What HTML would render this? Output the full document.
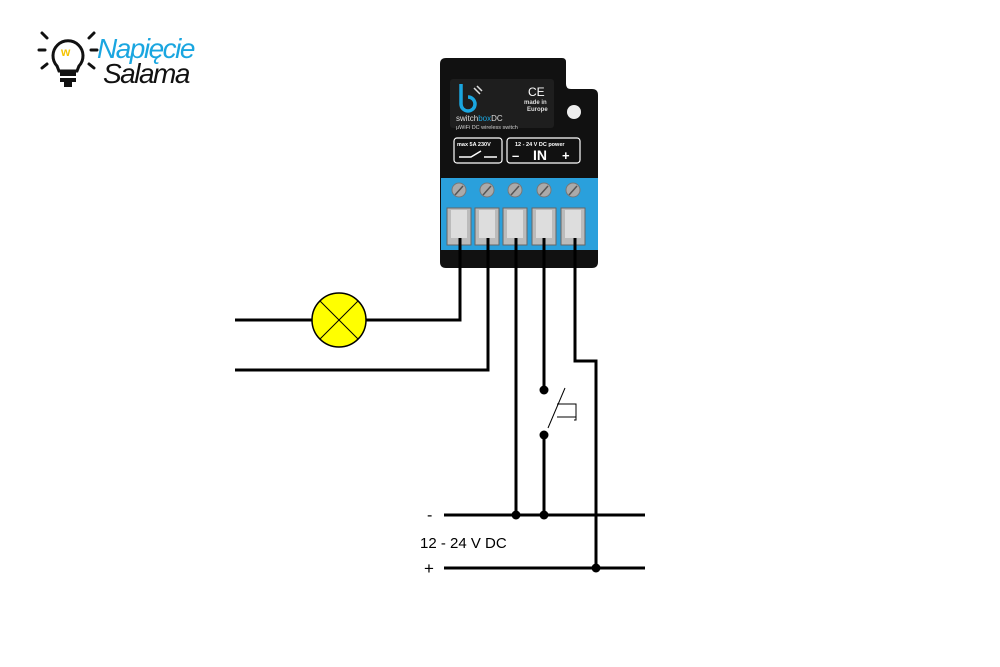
<!DOCTYPE html>
<html><head><meta charset="utf-8"><style>
html,body{margin:0;padding:0;background:#fff;}
svg{display:block;}
text{font-family:"Liberation Sans",sans-serif;}
</style></head><body>
<svg width="1000" height="667" viewBox="0 0 1000 667" xmlns="http://www.w3.org/2000/svg">
<!-- logo -->
<g stroke="#111" stroke-width="3" stroke-linecap="round" fill="none">
<path d="M57 66 A15 15 0 1 1 79 66 L77 71 L59 71 Z"/>
<line x1="42" y1="33" x2="47" y2="38"/><line x1="94" y1="33" x2="89" y2="38"/>
<line x1="39" y1="50" x2="45" y2="50"/><line x1="91" y1="50" x2="97" y2="50"/>
<line x1="42" y1="68" x2="47" y2="64"/><line x1="94" y1="68" x2="89" y2="64"/>
</g>
<rect x="60" y="72" width="16" height="4" fill="#111"/>
<rect x="60" y="78" width="16" height="4" fill="#111"/>
<rect x="64" y="82" width="8" height="5" fill="#111"/>
<text x="61" y="56" font-size="12" font-weight="bold" fill="#f5c400">w</text>
<text x="97" y="58" font-size="28" font-style="italic" fill="#1aa6e0" letter-spacing="-1.5">Napięcie</text>
<text x="103" y="83" font-size="28" font-style="italic" fill="#111" letter-spacing="-1.5">Salama</text>

<!-- device -->
<path d="M446 58 H562 Q566 58 566 62 V84 Q566 89 571 89 H592 Q598 89 598 95 V262 Q598 268 592 268 H446 Q440 268 440 262 V64 Q440 58 446 58 Z" fill="#111"/>
<rect x="450" y="79" width="104" height="49" rx="3" fill="#1e1e1e"/>
<path d="M461 84 V104 A7 7 0 1 0 468 97" stroke="#1aa6e0" stroke-width="3.5" fill="none"/>
<path d="M474 88 l6 6 M477 86 l5 5" stroke="#ddd" stroke-width="1.5"/>
<text x="528" y="96" font-size="12" fill="#fff">CE</text>
<text x="524" y="104" font-size="6" font-weight="bold" fill="#ddd">made in</text>
<text x="527" y="111" font-size="6" font-weight="bold" fill="#ddd">Europe</text>
<circle cx="574" cy="112" r="7" fill="#eee"/>
<text x="456" y="121" font-size="8" fill="#ddd">switch<tspan fill="#1aa6e0">box</tspan>DC</text>
<text x="456" y="129" font-size="5.5" fill="#ccc">μWiFi DC wireless switch</text>
<rect x="454" y="138" width="48" height="25" rx="3" fill="none" stroke="#fff" stroke-width="1.2"/>
<text x="457" y="146" font-size="5.5" font-weight="bold" fill="#fff">max 5A 230V</text>
<path d="M459 157 H471 L481 151 M484 157 H497" stroke="#fff" stroke-width="1.5" fill="none"/>
<rect x="507" y="138" width="73" height="25" rx="3" fill="none" stroke="#fff" stroke-width="1.2"/>
<text x="515" y="146" font-size="5.5" font-weight="bold" fill="#fff">12 - 24 V DC power</text>
<text x="512" y="160" font-size="13" font-weight="bold" fill="#fff">–</text>
<text x="533" y="160" font-size="14" font-weight="bold" fill="#fff">IN</text>
<text x="562" y="160" font-size="13" font-weight="bold" fill="#fff">+</text>
<rect x="441" y="178" width="157" height="72" fill="#2aa0dc"/>
<g>
<circle cx="459" cy="190" r="7" fill="#aaa" stroke="#777"/><circle cx="487" cy="190" r="7" fill="#aaa" stroke="#777"/><circle cx="515" cy="190" r="7" fill="#aaa" stroke="#777"/><circle cx="544" cy="190" r="7" fill="#aaa" stroke="#777"/><circle cx="573" cy="190" r="7" fill="#aaa" stroke="#777"/>
</g>
<g stroke="#555" stroke-width="1.5">
<line x1="455" y1="195" x2="463" y2="186"/><line x1="483" y1="195" x2="491" y2="186"/><line x1="511" y1="195" x2="519" y2="186"/><line x1="540" y1="195" x2="548" y2="186"/><line x1="569" y1="195" x2="577" y2="186"/>
</g>
<g fill="#bbb" stroke="#666">
<rect x="447" y="208" width="24" height="37"/><rect x="475" y="208" width="24" height="37"/><rect x="503" y="208" width="24" height="37"/><rect x="532" y="208" width="24" height="37"/><rect x="561" y="208" width="24" height="37"/>
</g>
<g fill="#ddd">
<rect x="451" y="210" width="16" height="28"/><rect x="479" y="210" width="16" height="28"/><rect x="507" y="210" width="16" height="28"/><rect x="536" y="210" width="16" height="28"/><rect x="565" y="210" width="16" height="28"/>
</g>

<!-- wires -->
<g stroke="#000" stroke-width="3" fill="none">
<path d="M460 238 V320 H366"/>
<path d="M312 320 H235"/>
<path d="M488 238 V370 H235"/>
<path d="M516 238 V515"/>
<path d="M544 238 V390"/>
<path d="M544 435 V515"/>
<path d="M575 238 V361 H596 V568"/>
<path d="M444 515 H645"/>
<path d="M444 568 H645"/>
</g>
<line x1="548" y1="428" x2="565" y2="388" stroke="#000" stroke-width="1"/>
<path d="M557 404 H576 V420 H574 M557 417 H576" stroke="#000" stroke-width="1" fill="none"/>
<g fill="#000">
<circle cx="544" cy="390" r="4.5"/><circle cx="544" cy="435" r="4.5"/>
<circle cx="516" cy="515" r="4.5"/><circle cx="544" cy="515" r="4.5"/><circle cx="596" cy="568" r="4.5"/>
</g>
<circle cx="339" cy="320" r="27" fill="#ffff00" stroke="#000" stroke-width="1.5"/>
<g stroke="#000" stroke-width="1"><line x1="320" y1="301" x2="358" y2="339"/><line x1="358" y1="301" x2="320" y2="339"/></g>
<text x="427" y="520" font-size="16" fill="#000">-</text>
<text x="420" y="548" font-size="15" fill="#000">12 - 24 V DC</text>
<text x="424" y="574" font-size="17" fill="#000">+</text>
</svg>
</body></html>
